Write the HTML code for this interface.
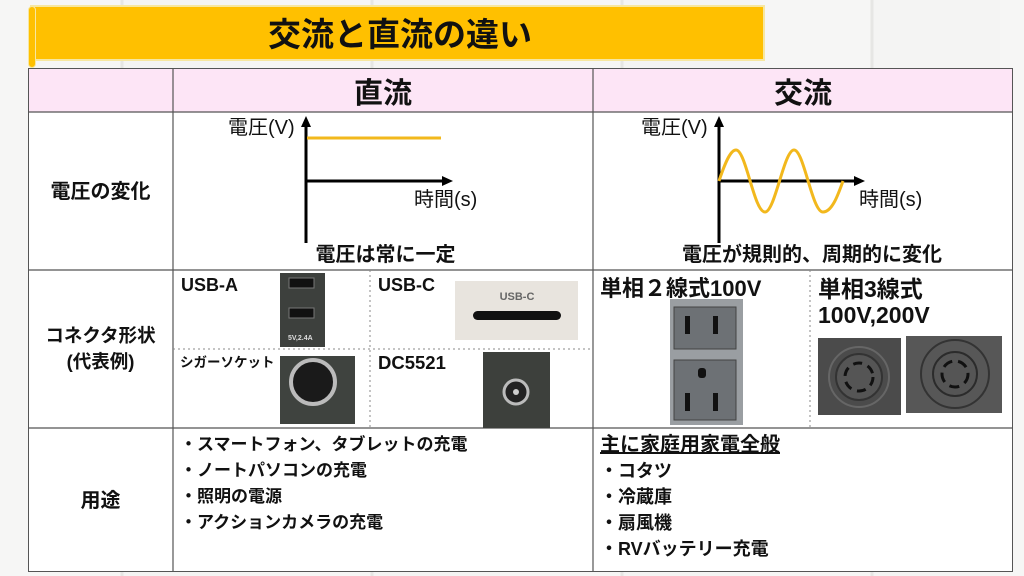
<!DOCTYPE html>
<html><head><meta charset="utf-8"><style>
*{margin:0;padding:0;box-sizing:border-box}
body{width:1024px;height:576px;overflow:hidden;position:relative;background:#f3f3f2;font-family:"Liberation Sans","Noto Sans CJK JP",sans-serif;color:#111}
.a{position:absolute;white-space:nowrap}
.b{font-weight:bold}
</style></head><body>
<div class="a" style="left:0;top:0;width:1024px;height:576px;background:repeating-linear-gradient(90deg,#f6f6f5 0 120px,#e6e6e4 121px 123px,#f4f4f3 124px 250px)"></div>
<div class="a" style="left:30px;top:5px;width:735px;height:56px;background:#FFC000;border:2px solid #f7e7a0"></div>
<div class="a" style="left:28px;top:6px;width:8px;height:62px;background:#FFC000;border:1px solid #f7e7a0;border-radius:4px"></div>
<div class="a b" style="left:30px;top:13px;width:740px;text-align:center;font-size:33px;line-height:44px">交流と直流の違い</div>

<div class="a" style="left:28px;top:68px;width:985px;height:504px;background:#fff;border:1px solid #555"></div>
<div class="a" style="left:29px;top:69px;width:983px;height:43px;background:#FDE5F6"></div>
<svg class="a" style="left:0;top:0" width="1024" height="576">
<g stroke="#555" stroke-width="1.2" fill="none">
<line x1="28" y1="112" x2="1013" y2="112"/><line x1="28" y1="270" x2="1013" y2="270"/><line x1="28" y1="428" x2="1013" y2="428"/>
<line x1="173" y1="68" x2="173" y2="572"/><line x1="593" y1="68" x2="593" y2="572"/>
</g>
<g stroke="#888" stroke-width="1" stroke-dasharray="2,3">
<line x1="173" y1="349" x2="593" y2="349"/><line x1="370" y1="270" x2="370" y2="428"/><line x1="810" y1="270" x2="810" y2="428"/>
</g>
<line x1="306" y1="243" x2="306" y2="125" stroke="#000" stroke-width="3"/>
<polygon points="306,116 301,127 311,127" fill="#000"/>
<line x1="306" y1="181" x2="443" y2="181" stroke="#000" stroke-width="3"/>
<polygon points="453,181 442,176 442,186" fill="#000"/>
<line x1="307" y1="138" x2="441" y2="138" stroke="#F2B81D" stroke-width="3"/>
<line x1="719" y1="243" x2="719" y2="125" stroke="#000" stroke-width="3"/>
<polygon points="719,116 714,127 724,127" fill="#000"/>
<line x1="719" y1="181" x2="855" y2="181" stroke="#000" stroke-width="3"/>
<polygon points="865,181 854,176 854,186" fill="#000"/>
<path d="M719,181 C726,160 731,150 736,150 C746,150 754,212 765,212 C775,212 784,150 794,150 C804,150 812,212 823,212 C832,212 838,195 843,181" stroke="#F2B81D" stroke-width="3" fill="none"/>
<rect x="280" y="273" width="45" height="74" fill="#3d403d"/>
<rect x="289" y="278" width="25" height="10" fill="#111" stroke="#777"/>
<rect x="289" y="308" width="25" height="10" fill="#111" stroke="#777"/>
<text x="288" y="340" font-size="7" fill="#ddd" font-weight="bold" font-family="Liberation Sans">5V,2.4A</text>
<rect x="455" y="281" width="123" height="59" fill="#e8e4de"/>
<text x="517" y="300" font-size="11" fill="#666" text-anchor="middle" font-family="Liberation Sans" font-weight="bold">USB-C</text>
<rect x="473" y="311" width="88" height="9" rx="4.5" fill="#111"/>
<rect x="280" y="356" width="75" height="68" fill="#3f433f"/>
<circle cx="313" cy="382" r="22" fill="#1a1a1a" stroke="#bbb" stroke-width="4"/>
<rect x="483" y="352" width="67" height="76" fill="#3d403c"/>
<circle cx="516" cy="392" r="12" fill="#222" stroke="#bbb" stroke-width="3"/>
<circle cx="516" cy="392" r="3" fill="#ccc"/>
<rect x="670" y="299" width="73" height="126" fill="#9a9ea2"/>
<rect x="674" y="307" width="62" height="42" fill="#6d7175" stroke="#444"/>
<rect x="685" y="316" width="5" height="18" fill="#111"/><rect x="713" y="316" width="5" height="18" fill="#111"/>
<rect x="674" y="360" width="62" height="60" fill="#6d7175" stroke="#444"/>
<rect x="685" y="393" width="5" height="18" fill="#111"/><rect x="713" y="393" width="5" height="18" fill="#111"/>
<rect x="698" y="368" width="8" height="10" rx="3" fill="#111"/>
<rect x="818" y="338" width="83" height="77" fill="#4b4b4b"/>
<circle cx="859" cy="377" r="30" fill="none" stroke="#666" stroke-width="2"/>
<circle cx="859" cy="377" r="23" fill="#555" stroke="#333" stroke-width="2"/>
<circle cx="859" cy="377" r="14" fill="none" stroke="#111" stroke-width="3" stroke-dasharray="9,6"/>
<rect x="906" y="336" width="96" height="77" fill="#575757"/>
<circle cx="955" cy="374" r="34" fill="none" stroke="#333" stroke-width="2"/>
<circle cx="955" cy="374" r="22" fill="#555" stroke="#2b2b2b" stroke-width="2"/>
<circle cx="955" cy="374" r="13" fill="none" stroke="#111" stroke-width="3" stroke-dasharray="10,6"/>
</svg>

<div class="a b" style="left:173px;top:75px;width:420px;text-align:center;font-size:29px;line-height:38px">直流</div>
<div class="a b" style="left:593px;top:75px;width:420px;text-align:center;font-size:29px;line-height:38px">交流</div>

<div class="a" style="left:228px;top:115px;font-size:20px;line-height:26px">電圧(V)</div>
<div class="a" style="left:414px;top:187px;font-size:20px;line-height:26px">時間(s)</div>
<div class="a b" style="left:173px;top:242px;width:420px;text-align:center;font-size:20px;line-height:26px;padding-left:5px">電圧は常に一定</div>
<div class="a" style="left:641px;top:115px;font-size:20px;line-height:26px">電圧(V)</div>
<div class="a" style="left:859px;top:187px;font-size:20px;line-height:26px">時間(s)</div>
<div class="a b" style="left:593px;top:242px;width:420px;text-align:center;font-size:20px;line-height:26px;padding-left:18px">電圧が規則的、周期的に変化</div>

<div class="a b" style="left:28px;top:179px;width:145px;text-align:center;font-size:20px;line-height:26px">電圧の変化</div>
<div class="a b" style="left:28px;top:323px;width:145px;text-align:center;font-size:18.5px;line-height:26px">コネクタ形状<br>(代表例)</div>
<div class="a b" style="left:28px;top:488px;width:145px;text-align:center;font-size:20px;line-height:26px">用途</div>

<div class="a b" style="left:181px;top:273px;font-size:18px;line-height:24px">USB-A</div>
<div class="a b" style="left:378px;top:273px;font-size:18px;line-height:24px">USB-C</div>
<div class="a b" style="left:180px;top:353px;font-size:13.5px;line-height:20px">シガーソケット</div>
<div class="a b" style="left:378px;top:351px;font-size:18.5px;line-height:24px">DC5521</div>
<div class="a b" style="left:600px;top:275px;font-size:22px;line-height:28px">単相２線式100V</div>
<div class="a b" style="left:818px;top:276px;font-size:23px;line-height:26px">単相3線式<br>100V,200V</div>

<div class="a b" style="left:180px;top:432px;font-size:17px;line-height:26px">・スマートフォン、タブレットの充電<br>・ノートパソコンの充電<br>・照明の電源<br>・アクションカメラの充電</div>
<div class="a b" style="left:600px;top:432px;font-size:18px;line-height:26px"><span style="text-decoration:underline;font-size:20px">主に家庭用家電全般</span><br>・コタツ<br>・冷蔵庫<br>・扇風機<br>・RVバッテリー充電</div>
</body></html>
